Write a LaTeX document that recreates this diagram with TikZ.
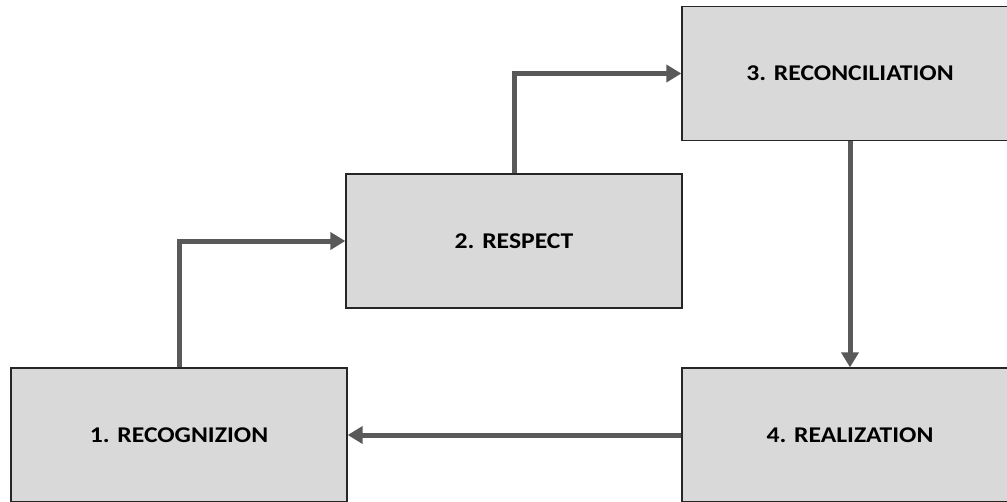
\documentclass[tikz,border=0pt]{standalone}
\usepackage{fontspec}
\usepackage{graphicx}
\setmainfont{Carlito}
\usetikzlibrary{arrows.meta}
\definecolor{boxfill}{HTML}{D9D9D9}
\definecolor{arrgray}{HTML}{595959}
\definecolor{boxline}{HTML}{262626}
\newcommand\stagelabel[1]{\scalebox{1.14}[1]{#1}}
\begin{document}
\begin{tikzpicture}[x=1pt,y=-1pt,
  stage/.style={draw=boxline,line width=1.3pt,fill=boxfill,minimum width=336pt,minimum height=134pt,inner sep=0pt,font=\fontsize{22.5}{26}\selectfont\bfseries},
  flow/.style={draw=arrgray,line width=5pt,-{Triangle[length=15pt,width=17pt]}}]
\useasboundingbox (0,0) rectangle (1007,501);
\clip (0,0) rectangle (1007,501);
\node[stage] (b1) at (179,435) {\stagelabel{1. RECOGNIZION}};
\node[stage] (b2) at (514,241) {\stagelabel{2. RESPECT}};
\node[stage] (b3) at (850,73.5) {\stagelabel{3. RECONCILIATION}};
\node[stage] (b4) at (850,435) {\stagelabel{4. REALIZATION}};
\draw[flow] (b1.north) |- (b2.west);
\draw[flow] (b2.north) |- (b3.west);
\draw[flow] (b3.south) -- (b4.north);
\draw[flow] (b4.west) -- (b1.east);
\end{tikzpicture}
\end{document}
